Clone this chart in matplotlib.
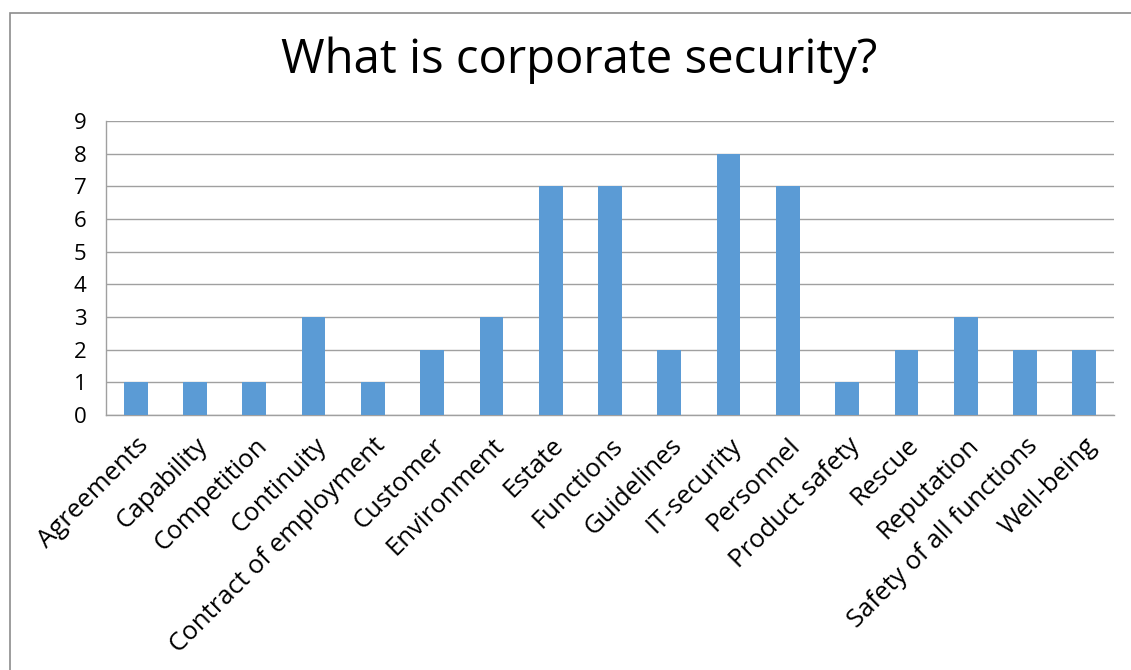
import matplotlib
matplotlib.use("Agg")
import matplotlib.pyplot as plt
from matplotlib.patches import Rectangle

categories = ["Agreements", "Capability", "Competition", "Continuity",
              "Contract of employment", "Customer", "Environment", "Estate",
              "Functions", "Guidelines", "IT-security", "Personnel",
              "Product safety", "Rescue", "Reputation",
              "Safety of all functions", "Well-being"]
values = [1, 1, 1, 3, 1, 2, 3, 7, 7, 2, 8, 7, 1, 2, 3, 2, 2]
yticks = list(range(0, 10))
title = "What is corporate security?"

plt.rcParams['font.family'] = ['Open Sans', 'DejaVu Sans']

fig = plt.figure(figsize=(11.31, 6.70), dpi=100)
fig.patches.append(Rectangle((10/1131, -0.1), 1.2, (670-13)/670 + 0.1,
                             transform=fig.transFigure, fill=False,
                             edgecolor='#8c8c8c', linewidth=1.2))
ax = fig.add_axes([106/1131, 1-415/670, (1114-106)/1131, (415-121)/670])
x = list(range(len(categories)))
ax.bar(x, values, width=0.4, color='#5B9BD5', zorder=3)
ax.set_xlim(-0.5, len(categories)-0.5)
ax.set_ylim(0, 9)
ax.set_yticks(yticks)
ax.set_yticklabels([str(v) for v in yticks], fontsize=16)
ax.set_xticks(x)
ax.set_xticklabels(categories, rotation=45, ha='right', rotation_mode='anchor', fontsize=18.5)
ax.tick_params(axis='y', length=0, pad=14)
ax.tick_params(axis='x', length=0, pad=13)
ax.grid(axis='y', color='#a0a0a0', linewidth=1, zorder=0)
for s in ['top', 'right']:
    ax.spines[s].set_visible(False)
for s in ['left', 'bottom']:
    ax.spines[s].set_color('#a0a0a0')
    ax.spines[s].set_linewidth(1)
fig.text(579/1131, 1-60/670, title, ha='center', va='center', fontsize=34)
fig.savefig("out.png", dpi=100)
